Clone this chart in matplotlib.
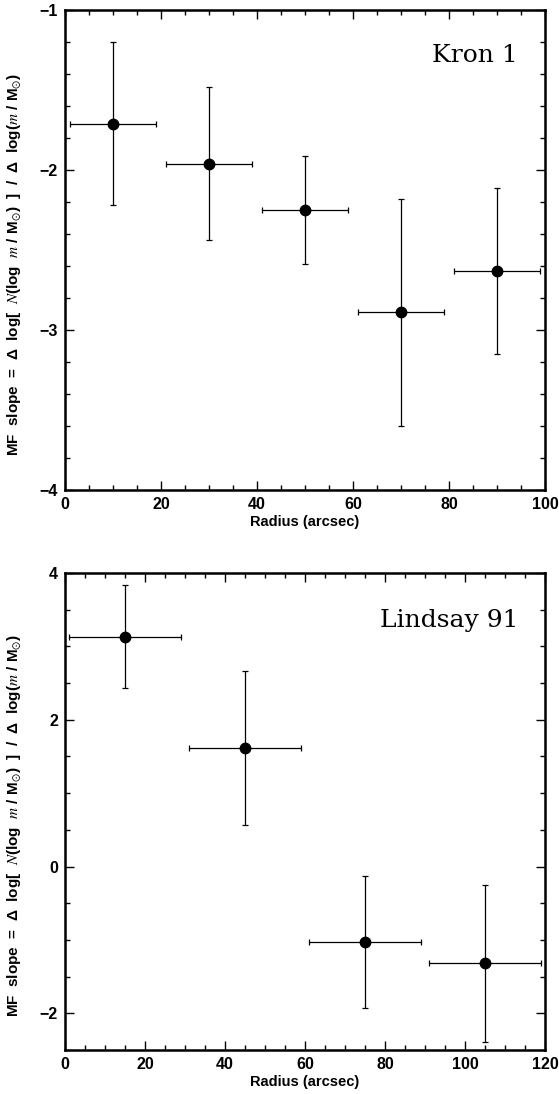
import numpy as np
import matplotlib
matplotlib.use("Agg")
import matplotlib.pyplot as plt
from matplotlib.ticker import MultipleLocator

plt.rcParams['font.family'] = ['Liberation Sans', 'DejaVu Sans']
plt.rcParams['mathtext.fontset'] = 'stix'

# Kron 1 panel
kron_r = [10, 30, 50, 70, 90]
kron_rerr = [9, 9, 9, 9, 9]
kron_slope = [-1.71, -1.96, -2.25, -2.89, -2.63]
kron_err = [0.51, 0.48, 0.34, 0.71, 0.52]

# Lindsay 91 panel
lind_r = [15, 45, 75, 105]
lind_rerr = [14, 14, 14, 14]
lind_slope = [3.13, 1.62, -1.03, -1.32]
lind_err = [0.70, 1.05, 0.90, 1.07]

ylabel = (r'MF  slope  =  Δ  log[  $N$(log  $m$ / M$_{\odot}$)  ]  /  '
          r'Δ  log($m$ / M$_{\odot}$)')

fig = plt.figure(figsize=(5.59, 10.94), dpi=100)
ax1 = fig.add_axes([65/559, 1 - 490/1094, 480/559, 480/1094])
ax2 = fig.add_axes([65/559, 1 - 1050/1094, 480/559, 477/1094])


def panel(ax, r, rerr, s, serr, name, xlim, ylim, xmaj, xmin, ymaj, ymin, ty):
    ax.errorbar(r, s, xerr=rerr, yerr=serr, fmt='o', color='black',
                ms=7.5, elinewidth=0.9, capsize=2.5, capthick=0.9)
    ax.set_xlim(*xlim)
    ax.set_ylim(*ylim)
    ax.xaxis.set_major_locator(MultipleLocator(xmaj))
    ax.xaxis.set_minor_locator(MultipleLocator(xmin))
    ax.yaxis.set_major_locator(MultipleLocator(ymaj))
    ax.yaxis.set_minor_locator(MultipleLocator(ymin))
    ax.tick_params(which='both', direction='in', top=True, right=True,
                   width=1.0, labelsize=11.5, pad=5)
    ax.tick_params(which='major', length=6.5)
    ax.tick_params(which='minor', length=3.5)
    for lab in ax.get_xticklabels() + ax.get_yticklabels():
        lab.set_fontweight('bold')
    for sp in ax.spines.values():
        sp.set_linewidth(1.8)
    ax.set_xlabel('Radius (arcsec)', fontsize=10.5, fontweight='bold', labelpad=2)
    ax.set_ylabel(ylabel, fontsize=11, fontweight='bold')
    ax.yaxis.set_label_coords(-0.087, 0.47)
    ax.text(0.944, ty, name, transform=ax.transAxes, ha='right',
            va='baseline', fontsize=18, family='DejaVu Serif')


panel(ax1, kron_r, kron_rerr, kron_slope, kron_err, 'Kron 1',
      (0, 100), (-4, -1), 20, 5, 1, 0.2, 0.892)
panel(ax2, lind_r, lind_rerr, lind_slope, lind_err, 'Lindsay 91',
      (0, 120), (-2.5, 4), 20, 5, 2, 0.5, 0.887)

fig.savefig('out.png', dpi=100)
